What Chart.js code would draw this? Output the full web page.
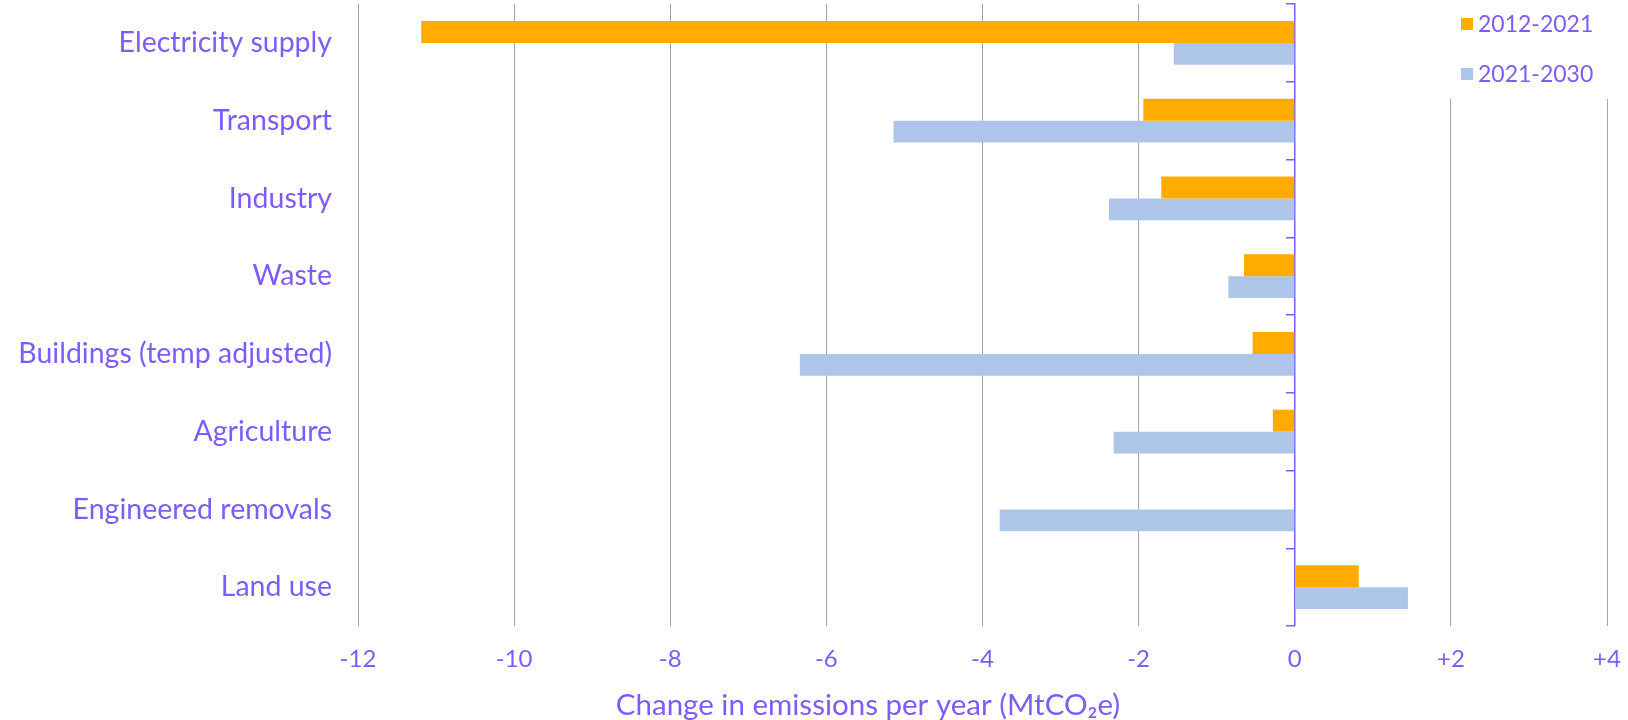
<!DOCTYPE html>
<html>
<head>
<meta charset="utf-8">
<script src="https://cdn.jsdelivr.net/npm/chart.js@4/dist/chart.umd.min.js"></script>
<style>
  html, body { margin: 0; padding: 0; background: #fff; }
  #wrap { width: 1628px; height: 720px; position: relative; }
</style>
</head>
<body>
<div id="wrap"><canvas id="chart"></canvas></div>
<script>
// data
const categories = ['Electricity supply', 'Transport', 'Industry', 'Waste',
  'Buildings (temp adjusted)', 'Agriculture', 'Engineered removals', 'Land use'];
const seriesNames = ['2012-2021', '2021-2030'];
const values2012 = [-11.19, -1.94, -1.71, -0.65, -0.54, -0.28, null, 0.82];
const values2021 = [-1.55, -5.14, -2.38, -0.85, -6.34, -2.32, -3.78, 1.45];
const xTicks = [-12, -10, -8, -6, -4, -2, 0, 2, 4];
const axisTitle = 'Change in emissions per year (MtCO\u2082e)';

const PURPLE = '#7C5CFF';
const FONT = 'Lato, "Open Sans", sans-serif';

// legend + axis title drawn by hand (Excel-style placement)
const extras = {
  id: 'extras',
  afterDraw(chart) {
    const ctx = chart.ctx;
    ctx.save();
    // white legend box hides the top of the +2/+4 gridlines
    ctx.fillStyle = '#fff';
    ctx.fillRect(1420, 0, 208, 99);
    ctx.font = '23px ' + FONT;
    ctx.textBaseline = 'middle';
    ctx.textAlign = 'left';
    chart.data.datasets.forEach((ds, i) => {
      const cy = 24 + i * 50;
      ctx.fillStyle = ds.backgroundColor;
      ctx.fillRect(1461, cy - 6, 12, 12);
      ctx.fillStyle = PURPLE;
      ctx.fillText(ds.label, 1478, cy + 1);
    });
    ctx.font = '29.5px ' + FONT;
    ctx.textAlign = 'center';
    ctx.fillText(axisTitle, 868, 705);
    ctx.restore();
  }
};

new Chart(document.getElementById('chart'), {
  type: 'bar',
  data: {
    labels: categories,
    datasets: [
      { label: seriesNames[0], data: values2012, backgroundColor: '#FFAB00' },
      { label: seriesNames[1], data: values2021, backgroundColor: '#AEC5EA' }
    ]
  },
  options: {
    indexAxis: 'y',
    responsive: true, maintainAspectRatio: false, animation: false,
    devicePixelRatio: 1,
    categoryPercentage: 0.565, barPercentage: 1,
    layout: { padding: { top: 4, right: 21, left: 0, bottom: 0 } },
    plugins: { legend: { display: false }, tooltip: { enabled: false } },
    scales: {
      x: {
        min: -12, max: 4,
        afterBuildTicks: s => { s.ticks = xTicks.map(v => ({ value: v })); },
        afterFit: s => { s.height = 94; s.paddingLeft = 0; s.paddingRight = 0; },
        grid: { color: '#A6A6A6', lineWidth: 1, drawTicks: false },
        border: { display: false },
        ticks: {
          color: PURPLE, font: { family: FONT, size: 24 }, padding: 19,
          callback: v => v > 0 ? '+' + v : String(v)
        }
      },
      y: {
        afterFit: s => { s.width = 358; s.paddingTop = 0; s.paddingBottom = 0; },
        grid: { display: false, drawTicks: false },
        border: { display: false },
        ticks: { color: PURPLE, font: { family: FONT, size: 28.5 }, padding: 26 }
      },
      y2: {
        type: 'category',
        position: { x: 0 },
        offset: true,
        z: 1,
        afterFit: s => { s.width = 0; s.paddingTop = 0; s.paddingBottom = 0; },
        grid: { drawOnChartArea: false, offset: true, tickLength: 8, color: PURPLE, lineWidth: 1.5 },
        border: { color: PURPLE, width: 1.5 },
        ticks: { display: false }
      }
    }
  },
  plugins: [extras]
});
</script>
</body>
</html>
